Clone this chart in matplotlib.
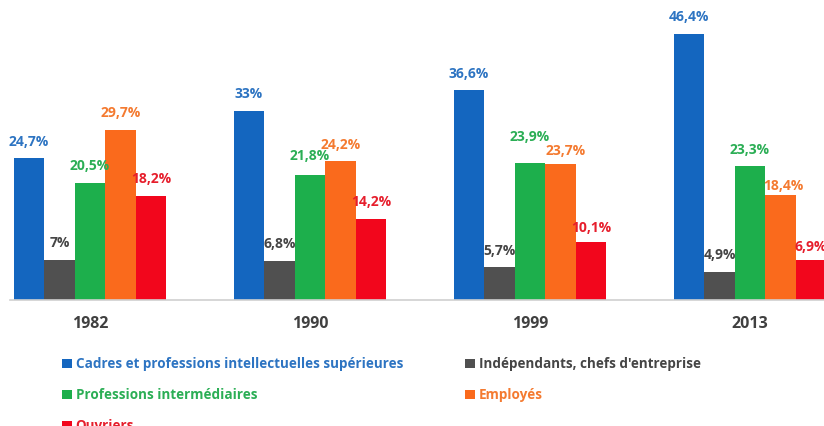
import matplotlib.pyplot as plt
from matplotlib.patches import Patch
import numpy as np

plt.rcParams['font.family'] = ['Open Sans', 'DejaVu Sans']

# data
years = ['1982', '1990', '1999', '2013']
series = ['Cadres et professions intellectuelles supérieures',
          'Indépendants, chefs d\'entreprise',
          'Professions intermédiaires',
          'Employés',
          'Ouvriers']
cadres = [24.7, 33, 36.6, 46.4]
independants = [7, 6.8, 5.7, 4.9]
intermediaires = [20.5, 21.8, 23.9, 23.3]
employes = [29.7, 24.2, 23.7, 18.4]
ouvriers = [18.2, 14.2, 10.1, 6.9]

bar_colors = ['#1466BF', '#505050', '#1DAF4C', '#FA6A1C', '#F2061C']
text_colors = ['#2D74C2', '#454545', '#2BAE55', '#F47A30', '#E61E2C']

values = [cadres, independants, intermediaires, employes, ouvriers]

# labels that were nudged by hand in the original (series, year) -> (dx, dy) in points
nudge = {(2, 2): (0, 19), (3, 2): (4, 9.5), (3, 3): (2, 6.5),
         (4, 2): (0, 10), (4, 3): (0, 9.5), (2, 1): (0, 13.5)}

fig = plt.figure(figsize=(8.24, 4.26), dpi=100)
ax = fig.add_axes([10/824, 126/426, 814/824, 300/426])

x = np.arange(len(years))
w = 30.5/220

#bars + value labels
for j, vals in enumerate(values):
    pos = x + (j - 2)*w
    ax.bar(pos, vals, width=w, color=bar_colors[j], label=series[j])
    for k, (p, v) in enumerate(zip(pos, vals)):
        s = ('%g' % v).replace('.', ',') + '%'
        off = nudge.get((j, k), (0, 12))
        ax.annotate(s, (p, v), xytext=off, textcoords='offset points',
                    ha='center', va='center', fontsize=10, fontweight='bold',
                    color=text_colors[j], annotation_clip=False)

ax.set_xlim(-80/220, 734/220)
ax.set_ylim(0, 300/5.73)
ax.set_xticks(x)
ax.set_xticklabels(years, fontsize=11.5, fontweight='bold', color='#404040')
ax.tick_params(axis='x', length=0, pad=11.5)
ax.set_yticks([])
for sp in ['top', 'left', 'right']:
    ax.spines[sp].set_visible(False)
ax.spines['bottom'].set_color('#D0D0D0')
ax.spines['bottom'].set_linewidth(1.2)

# legend
order = [0, 2, 4, 1, 3]
handles = [Patch(facecolor=bar_colors[i]) for i in order]
labels = [series[i] for i in order]
leg = fig.legend(handles, labels, ncol=2, loc='upper left',
                 bbox_to_anchor=(50/824, 1 - 345/426), frameon=False,
                 prop={'weight': 'bold', 'size': 9.75},
                 handlelength=0.7, handleheight=0.7, handletextpad=0.3,
                 labelspacing=1.25, columnspacing=4.6)
for t, i in zip(leg.get_texts(), order):
    t.set_color(text_colors[i])

fig.savefig('out.png', dpi=100)
